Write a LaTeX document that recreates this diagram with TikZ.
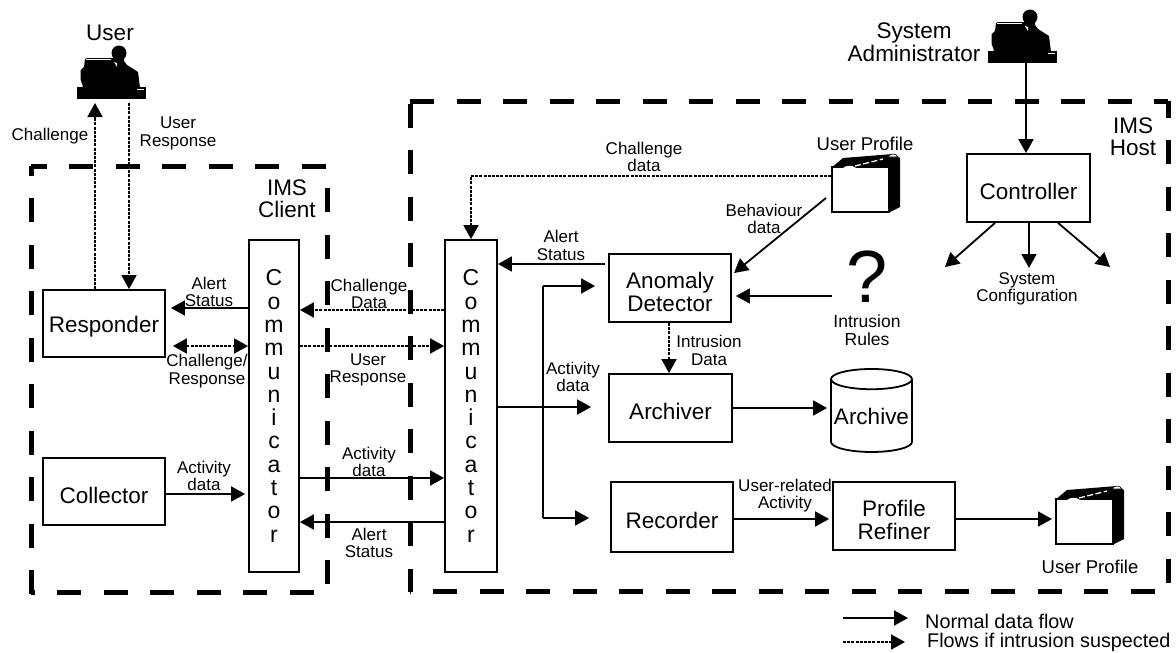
\documentclass[tikz,border=0pt]{standalone}
\usepackage{fontspec}
\setmainfont{Liberation Sans}
\usetikzlibrary{arrows.meta,shapes.geometric}
\newcommand{\fsize}[1]{\fontsize{#1}{#1}\selectfont}

\tikzset{
  person/.pic={
    \node[fill=black, inner sep=0pt, minimum width=69pt, minimum height=12pt,
          anchor=south west] (-base) at (0,0) {};
    \fill (42,-46) circle (7.5);
    \fill (5.5,-11) -- (5.5,-14) -- (3.7,-19) -- (3.7,-29) -- (7,-32) -- (8,-40) -- (10,-41)
          -- (36,-41) -- (37,-46) -- (47,-46) -- (47,-38) -- (50,-34) -- (61,-27) -- (63,-11) -- cycle;
    \fill[white] (37,-37) -- (40,-36) -- (40,-32) -- cycle;
    \draw[white, line width=0.8pt] (9,-39.5) -- (34,-39.5);
    \draw[white, line width=0.8pt] (60,-9.5) -- (67,-9.5);
  },
  folder/.pic={
    \fill (0,-45) -- (12,-55) -- (62,-59) -- (69,-55) -- (69,-6) -- (57,0) -- cycle;
    \node[draw=black, fill=white, line width=1.8pt, inner sep=0pt, minimum width=57pt,
          minimum height=45pt, anchor=south west] (-front) at (0,0) {};
    \fill[white] (12,-45) .. controls (15,-48) and (22,-48) .. (25,-45) -- cycle;
    \draw[white, line width=1.3pt, dash pattern=on 6pt off 2.5pt] (24,-47) -- (52,-54);
    \fill[white, draw=black, line width=0.6pt] (57,-56) .. controls (59,-60) and (65,-60) .. (67,-56) -- cycle;
  }
}

\begin{document}
\begin{tikzpicture}[x=1pt, y=-1pt,
    every node/.style={inner sep=0pt},
    block/.style={draw, line width=1.8pt},
    blocktext/.style={align=center, yshift=-3.5pt, font=\fontsize{22.5}{23}\selectfont},
    commbox/.style={draw, line width=1.8pt, align=center, minimum width=50pt,
                    minimum height=332pt, font=\fontsize{23}{23.3}\selectfont},
    bound/.style={line width=5pt, dash pattern=on 24pt off 22.5pt},
    lab/.style={align=center, font=\fontsize{17}{17.5}\selectfont},
    biglab/.style={align=center, font=\fontsize{22.5}{22.5}\selectfont},
    arr/.style={-{Triangle[length=14pt,width=15pt]}, line width=1.8pt},
    sus/.style={arr, dash pattern=on 3pt off 1.2pt}]
  \useasboundingbox (0,0) rectangle (1176,653);
  % client boundary
  \draw[bound, dash phase=8.5pt] (31,166) -- (327,166);
  \draw[bound, dash phase=14.5pt] (31,166) -- (31,594);
  \draw[bound, dash phase=24.5pt] (327,166) -- (327,592);
  \draw[bound, dash phase=20.5pt] (31,592) -- (327,592);
  % host boundary
  \draw[bound] (410,101) -- (1168,101);
  \draw[bound, dash phase=44pt] (410,101) -- (410,592);
  \draw[bound, dash phase=7.5pt] (1168,101) -- (1168,591);
  \draw[bound, dash phase=23.5pt] (410,591) -- (1168,591);
  % client
  \node[block, minimum width=122pt, minimum height=67pt,
        label={[blocktext]center:Responder}] (responder) at (104,323.5) {};
  \node[block, minimum width=122pt, minimum height=67pt,
        label={[blocktext]center:Collector}] (collector) at (104,491.5) {};
  \node[commbox] (commleft) at (274,406) {C\\o\\m\\m\\u\\n\\i\\c\\a\\t\\o\\r};
  % host
  \node[commbox, minimum width=52pt] (commright) at (471,406) {C\\o\\m\\m\\u\\n\\i\\c\\a\\t\\o\\r};
  \node[block, minimum width=122pt, minimum height=68pt,
        label={[blocktext]center:{Anomaly\\Detector}}] (anomaly) at (670,288) {};
  \node[block, minimum width=123pt, minimum height=68pt,
        label={[blocktext]center:Archiver}] (archiver) at (670.5,408) {};
  \node[block, minimum width=122pt, minimum height=70pt,
        label={[blocktext]center:Recorder}] (recorder) at (672,517) {};
  \node[block, minimum width=122pt, minimum height=68pt,
        label={[blocktext]center:{Profile\\Refiner}}] (refiner) at (894,516) {};
  \node[block, minimum width=123pt, minimum height=68pt,
        label={[blocktext]center:Controller}] (controller) at (1028.5,188) {};
  \node[cylinder, shape border rotate=90, aspect=0.27, draw, line width=1.8pt,
        minimum width=81pt, minimum height=83pt, font=\fsize{22.5}] (archive) at (871.5,416) {Archive};
  \node[font=\fsize{74}, anchor=base] (rules) at (867,302) {?};
  % icons
  \pic (user) at (77,99) {person};
  \pic (admin) at (988,63) {person};
  \pic (profiletop) at (831,213) {folder};
  \pic (profilelow) at (1055,545) {folder};
  % free ends
  \coordinate (chalx) at (95,0);
  \coordinate (respx) at (129,0);
  \coordinate (splitx) at (543,0);
  \coordinate (adminx) at (1026,0);
  \coordinate (behavstart) at (826,198);
  \coordinate (behavend) at (734,273);
  \coordinate (rulesstart) at (832,296);
  \coordinate (confa) at (945,267);
  \coordinate (confb) at (1029,268);
  \coordinate (confc) at (1110,267);
  \coordinate (legsa) at (843,618);
  \coordinate (legsb) at (908,618);
  \coordinate (legda) at (843,642);
  \coordinate (legdb) at (905,642);
  \coordinate (topbend) at (471,176);
  % connectors
  \draw[sus, shorten >=4pt] (chalx |- responder.north) -- (chalx |- user-base.south);
  \draw[sus, shorten <=4pt] (respx |- user-base.south) -- (respx |- responder.north);
  \draw[arr, shorten >=5pt] (commleft.west |- 0,308) -- (responder.east |- 0,308);
  \draw[sus] (commright.west |- 0,310) -- (commleft.east |- 0,310);
  \draw[sus] (commleft.east |- 0,346) -- (commright.west |- 0,346);
  \draw[sus, {Triangle[length=14pt,width=15pt]}-{Triangle[length=14pt,width=15pt]}, shorten <=7pt]
    (responder.east |- 0,346) -- (commleft.west |- 0,346);
  \draw[arr, shorten >=3pt] (collector.east |- 0,494) -- (commleft.west |- 0,494);
  \draw[arr] (commleft.east |- 0,478) -- (commright.west |- 0,478);
  \draw[arr] (commright.west |- 0,522) -- (commleft.east |- 0,522);
  \draw[arr, shorten <=3pt] (anomaly.west |- 0,264) -- (commright.east |- 0,264);
  \draw[arr, shorten >=13pt] (splitx |- 0,286) -- (anomaly.west |- 0,286);
  \draw[line width=1.8pt] (splitx |- 0,286) -- (splitx |- 0,518);
  \draw[arr, shorten >=21pt] (splitx |- 0,518) -- (recorder.west |- 0,518);
  \draw[arr, shorten >=17pt] (commright.east |- 0,407) -- (archiver.west |- 0,407);
  \draw[sus] (profiletop-front.west |- 0,176) -- (topbend) -- (commright.north);
  \draw[arr] (behavstart) -- (behavend);
  \draw[arr, shorten >=4pt] (rulesstart) -- (anomaly.east |- 0,296);
  \draw[sus] (anomaly.south -| 669,0) -- (archiver.north -| 669,0);
  \draw[arr, shorten >=3pt] (archiver.east |- 0,408) -- (archive.west |- 0,408);
  \draw[arr, shorten >=3pt] (recorder.east |- 0,519) -- (refiner.west |- 0,519);
  \draw[arr, shorten >=3pt] (refiner.east |- 0,519) -- (profilelow-front.west |- 0,519);
  \draw[arr] (adminx |- admin-base.south) -- (adminx |- controller.north);
  \draw[arr] (controller.south -| 995,0) -- (confa);
  \draw[arr] (controller.south -| 1029,0) -- (confb);
  \draw[arr] (controller.south -| 1058,0) -- (confc);
  \draw[arr] (legsa) -- (legsb);
  \draw[sus] (legda) -- (legdb);
  % labels
  \node[biglab] (userlab) at (110,33) {User};
  \node[lab] (challab) at (50,136) {Challenge};
  \node[lab] (resplab) at (178,133.5) {User\\Response};
  \node[biglab] (clientlab) at (287,199) {IMS\\Client};
  \node[lab] (alertleft) at (209,292) {Alert\\Status};
  \node[lab] (chalresp) at (207,371) {Challenge/\\Response};
  \node[lab] (chaldata) at (369,294) {Challenge\\Data};
  \node[lab] (respdata) at (368,370) {User\\Response};
  \node[lab] (actleft) at (204,476) {Activity\\data};
  \node[lab] (actmid) at (369,462) {Activity\\data};
  \node[lab] (alertmid) at (369,543) {Alert\\Status};
  \node[lab] (alertright) at (561,245.5) {Alert\\Status};
  \node[lab] (actright) at (573,377) {Activity\\data};
  \node[lab] (chaltop) at (644,157) {Challenge\\data};
  \node[lab, font=\fsize{18.5}] (proftop) at (865,144) {User Profile};
  \node[lab] (behav) at (764,219) {Behaviour\\data};
  \node[lab, font=\fontsize{17.5}{18}\selectfont] (ruleslab) at (867,330) {Intrusion\\Rules};
  \node[lab] (intrlab) at (709,350.5) {Intrusion\\Data};
  \node[lab] (rellab) at (785,495.5) {User-related\\Activity};
  \node[lab, font=\fsize{18.5}] (proflow) at (1090,567) {User Profile};
  \node[biglab] (hostlab) at (1133,137) {IMS\\Host};
  \node[biglab] (adminlab) at (914,42.5) {System\\Administrator};
  \node[lab] (conflab) at (1027,289) {System\\Configuration};
  \node[lab, font=\fsize{19.8}, anchor=west] (legnormal) at (925,621) {Normal data flow};
  \node[lab, font=\fsize{19.8}, anchor=west] (legsusp) at (927,642) {Flows if intrusion suspected};
\end{tikzpicture}
\end{document}
